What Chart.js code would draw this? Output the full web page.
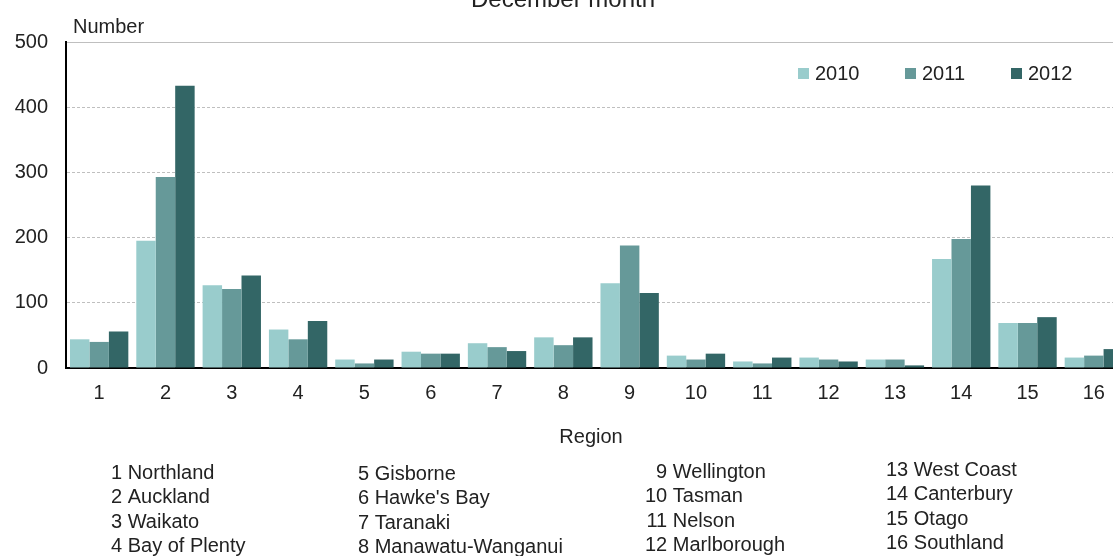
<!DOCTYPE html>
<html>
<head>
<meta charset="utf-8">
<style>
  html, body { margin: 0; padding: 0; background: #fff; overflow: hidden; }
  #wrap { width: 1113px; height: 556px; overflow: hidden; position: relative; }
  #myChart { position: absolute; left: 0; top: 0; }
</style>
</head>
<body>
<div id="wrap">
    <canvas id="myChart" width="1130" height="556"></canvas>
</div>

<script src="https://cdn.jsdelivr.net/npm/chart.js"></script>

<script>
    // data
    const regions = ['1', '2', '3', '4', '5', '6', '7', '8', '9', '10', '11', '12', '13', '14', '15', '16'];
    const regionNames = ['Northland', 'Auckland', 'Waikato', 'Bay of Plenty', 'Gisborne', "Hawke's Bay", 'Taranaki',
        'Manawatu-Wanganui', 'Wellington', 'Tasman', 'Nelson', 'Marlborough', 'West Coast', 'Canterbury', 'Otago', 'Southland'];
    const years = ['2010', '2011', '2012'];
    const v2010 = [44, 195, 127, 59, 13, 25, 38, 47, 130, 19, 10, 16, 13, 167, 69, 16];
    const v2011 = [40, 293, 121, 44, 7, 22, 32, 35, 188, 13, 7, 13, 13, 198, 69, 19];
    const v2012 = [56, 433, 142, 72, 13, 22, 26, 47, 115, 22, 16, 10, 4, 280, 78, 29];
    const yTicks = [0, 100, 200, 300, 400, 500];

    const colors = ['#99cccc', '#669999', '#336666'];
    const FONT = '"Liberation Sans", Arial, sans-serif';
    const ctx = document.getElementById('myChart');

    // title, axis captions, legend and the region key
    const extras = {
        id: 'extras',
        afterDraw(chart) {
            const c = chart.ctx;
            const area = chart.chartArea;
            c.save();
            c.fillStyle = '#222';
            c.textBaseline = 'alphabetic';

            c.font = '24px ' + FONT;
            c.textAlign = 'center';
            c.fillText('December month', 563, 7);

            c.font = '20px ' + FONT;
            c.textAlign = 'left';
            c.fillText('Number', 73, 33);

            c.textAlign = 'center';
            c.fillText('Region', 591, 443);

            // legend
            const legendX = [798, 905, 1011];
            chart.data.datasets.forEach((ds, i) => {
                c.fillStyle = ds.backgroundColor;
                c.fillRect(legendX[i], 68, 11, 11);
                c.fillStyle = '#222';
                c.textAlign = 'left';
                c.fillText(ds.label, legendX[i] + 17, 80);
            });

            // region key, four columns of four
            const colX = [111, 358, 645, 886];
            const colY = [479, 480, 478, 476];
            const step = 24.4;
            for (let col = 0; col < 4; col++) {
                const nums = regions.slice(col * 4, col * 4 + 4);
                const numW = Math.max(...nums.map(n => c.measureText(n).width));
                const spaceW = c.measureText(' ').width;
                for (let r = 0; r < 4; r++) {
                    const idx = col * 4 + r;
                    const y = colY[col] + r * step;
                    c.textAlign = 'right';
                    c.fillText(regions[idx], colX[col] + numW, y);
                    c.textAlign = 'left';
                    c.fillText(regionNames[idx], colX[col] + numW + spaceW, y);
                }
            }
            c.restore();
        }
    };

    const data = {
        labels: regions,
        datasets: [
            { label: years[0], data: v2010, backgroundColor: colors[0] },
            { label: years[1], data: v2011, backgroundColor: colors[1] },
            { label: years[2], data: v2012, backgroundColor: colors[2] }
        ]
    };

    const config = {
        type: 'bar',
        data: data,
        options: {
            responsive: false,
            animation: false,
            devicePixelRatio: 1,
            layout: { padding: { top: 42, right: 3, left: 0, bottom: 0 } },
            datasets: {
                bar: { categoryPercentage: 0.88, barPercentage: 1.0, borderWidth: 0 }
            },
            plugins: {
                legend: { display: false },
                title: { display: false },
                tooltip: { enabled: false }
            },
            scales: {
                x: {
                    grid: { display: false, drawTicks: false },
                    border: { display: true, color: '#000', width: 2 },
                    ticks: { color: '#222', font: { family: FONT, size: 20 }, padding: 13, maxRotation: 0 },
                    afterFit: scale => { scale.height = 556 - 368; }
                },
                y: {
                    min: 0,
                    max: 500,
                    afterBuildTicks: scale => { scale.ticks = yTicks.map(v => ({ value: v })); },
                    grid: { color: '#bfbfbf', lineWidth: 1, drawTicks: false },
                    border: {
                        display: true, color: '#000', width: 2,
                        dash: c => (c.tick && c.tick.value === 500) ? [] : [3, 2]
                    },
                    ticks: { color: '#222', font: { family: FONT, size: 20 }, padding: 18 },
                    afterFit: scale => { scale.width = 66; }
                }
            }
        },
        plugins: [extras]
    };

    new Chart(ctx, config);
</script>
</body>
</html>
